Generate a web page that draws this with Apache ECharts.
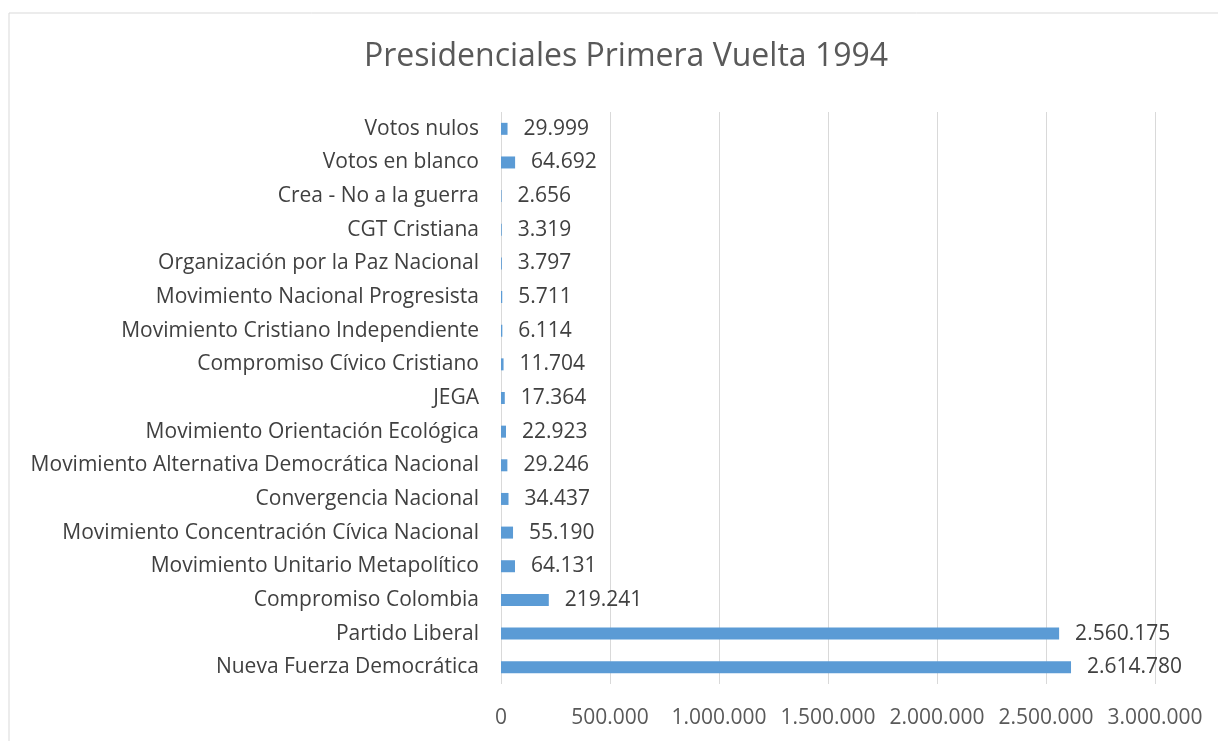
<!DOCTYPE html>
<html>
<head>
<meta charset="utf-8">
<script src="https://cdn.jsdelivr.net/npm/echarts@6/dist/echarts.min.js"></script>
<style>
html,body{margin:0;padding:0;background:#fff;}
#chart{width:1218px;height:741px;}
</style>
</head>
<body>
<div id="chart"></div>
<script>
const titleText = 'Presidenciales Primera Vuelta 1994';
// top to bottom order
const categories = [
  'Votos nulos',
  'Votos en blanco',
  'Crea - No a la guerra',
  'CGT Cristiana',
  'Organización por la Paz Nacional',
  'Movimiento Nacional Progresista',
  'Movimiento Cristiano Independiente',
  'Compromiso Cívico Cristiano',
  'JEGA',
  'Movimiento Orientación Ecológica',
  'Movimiento Alternativa Democrática Nacional',
  'Convergencia Nacional',
  'Movimiento Concentración Cívica Nacional',
  'Movimiento Unitario Metapolítico',
  'Compromiso Colombia',
  'Partido Liberal',
  'Nueva Fuerza Democrática'
];
const votes = [29999, 64692, 2656, 3319, 3797, 5711, 6114, 11704, 17364, 22923, 29246, 34437, 55190, 64131, 219241, 2560175, 2614780];
const axisMin = 0, axisMax = 3000000, axisStep = 500000;

function fmt(v){ return String(Math.round(v)).replace(/\B(?=(\d{3})+(?!\d))/g, '.'); }

const FONT = '"Open Sans", sans-serif';
const chart = echarts.init(document.getElementById('chart'));
chart.setOption({
  animation: false,
  backgroundColor: '#ffffff',
  title: {
    text: titleText,
    left: 621,
    top: 36,
    textAlign: 'center',
    textStyle: {fontFamily: FONT, fontSize: 32, fontWeight: 'normal', color: '#595959'}
  },
  graphic: [{
    type: 'rect',
    shape: {x: 9, y: 13, width: 1240, height: 760},
    style: {fill: 'none', stroke: '#d9d9d9', lineWidth: 1},
    silent: true
  }],
  grid: {left: 501, right: 63, top: 112, bottom: 57, containLabel: false},
  xAxis: {
    type: 'value',
    min: axisMin, max: axisMax, interval: axisStep,
    axisLine: {show: false},
    axisTick: {show: false},
    axisLabel: {formatter: fmt, color: '#595959', fontFamily: FONT, fontSize: 21, margin: 24},
    splitLine: {show: true, lineStyle: {color: '#d9d9d9', width: 1}}
  },
  yAxis: {
    type: 'category',
    data: categories,
    inverse: true,
    axisLine: {show: false},
    axisTick: {show: false},
    axisLabel: {color: '#404040', fontFamily: FONT, fontSize: 21, margin: 22}
  },
  series: [{
    type: 'bar',
    data: votes,
    barWidth: 12,
    itemStyle: {color: '#5b9bd5'},
    label: {
      show: true, position: 'right', distance: 16,
      formatter: p => fmt(p.value),
      color: '#404040', fontFamily: FONT, fontSize: 21
    }
  }]
});
</script>
</body>
</html>
